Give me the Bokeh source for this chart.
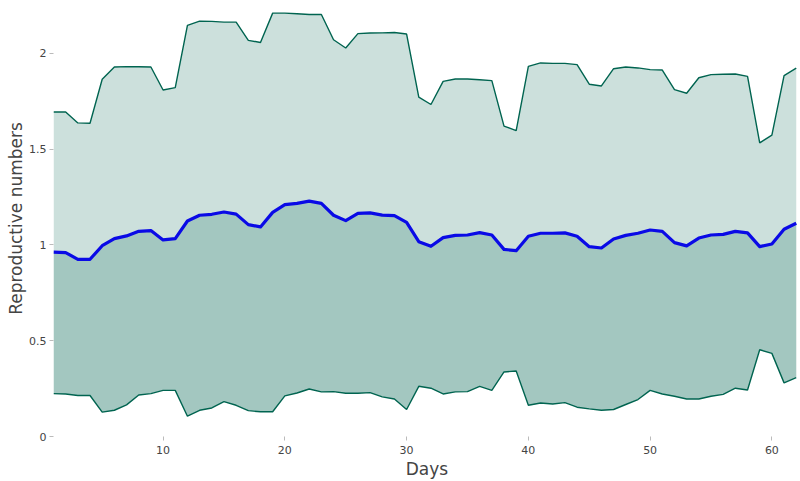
from bokeh.plotting import figure
from bokeh.models import FixedTicker, Range1d
from bokeh.embed import file_html
from bokeh.resources import INLINE

# Daily reproductive-number estimates: mean with lower/upper bounds
days = list(range(1, 63))

upper = [1.694, 1.694, 1.637, 1.635, 1.865, 1.929, 1.931, 1.930, 1.929, 1.809,
         1.821, 2.146, 2.168, 2.167, 2.163, 2.163, 2.068, 2.057, 2.210, 2.210,
         2.207, 2.203, 2.203, 2.071, 2.028, 2.103, 2.106, 2.107, 2.109, 2.101,
         1.772, 1.733, 1.854, 1.866, 1.866, 1.862, 1.858, 1.620, 1.597, 1.932,
         1.950, 1.948, 1.948, 1.941, 1.839, 1.830, 1.920, 1.929, 1.924, 1.915,
         1.913, 1.811, 1.792, 1.873, 1.889, 1.891, 1.892, 1.880, 1.533, 1.573,
         1.884, 1.923]

lower = [0.224, 0.222, 0.214, 0.214, 0.127, 0.137, 0.165, 0.217, 0.224, 0.241,
         0.241, 0.106, 0.137, 0.149, 0.182, 0.163, 0.135, 0.129, 0.129, 0.212,
         0.227, 0.248, 0.233, 0.234, 0.226, 0.226, 0.229, 0.207, 0.196, 0.141,
         0.262, 0.252, 0.222, 0.233, 0.234, 0.262, 0.241, 0.337, 0.342, 0.163,
         0.175, 0.170, 0.177, 0.153, 0.144, 0.137, 0.141, 0.167, 0.193, 0.241,
         0.222, 0.210, 0.196, 0.196, 0.210, 0.220, 0.252, 0.243, 0.453, 0.434,
         0.280, 0.307]

mean = [0.962, 0.960, 0.925, 0.925, 0.996, 1.033, 1.047, 1.071, 1.075, 1.026,
        1.033, 1.125, 1.155, 1.160, 1.172, 1.161, 1.106, 1.094, 1.170, 1.210,
        1.217, 1.229, 1.217, 1.155, 1.127, 1.165, 1.167, 1.156, 1.153, 1.118,
        1.017, 0.993, 1.038, 1.050, 1.052, 1.064, 1.052, 0.977, 0.970, 1.045,
        1.061, 1.061, 1.063, 1.045, 0.991, 0.984, 1.031, 1.050, 1.061, 1.078,
        1.071, 1.012, 0.995, 1.036, 1.052, 1.055, 1.071, 1.063, 0.991, 1.005,
        1.082, 1.113]

x_ticks = [10, 20, 30, 40, 50, 60]
y_ticks = [0, 0.5, 1, 1.5, 2]
y_tick_labels = ["0", "0.5", "1", "1.5", "2"]

band = "rgb(0,100,80)"
font = "DejaVu Sans"
text_col = "#444444"

p = figure(width=800, height=481, output_backend="svg", toolbar_location=None,
           x_range=Range1d(1, 62.35), y_range=Range1d(0, 2.276),
           min_border_left=53, min_border_right=0, min_border_top=0,
           min_border_bottom=44)
p.outline_line_color = None
p.background_fill_color = "white"
p.border_fill_color = "white"
p.xgrid.visible = False
p.ygrid.visible = False

# Shaded bands: lower..upper and lower..mean, stacked translucently
p.varea(x=days, y1=lower, y2=upper, fill_color=band, fill_alpha=0.2)
p.varea(x=days, y1=lower, y2=mean, fill_color=band, fill_alpha=0.2)

p.line(days, upper, line_color=band, line_width=1.4)
p.line(days, lower, line_color=band, line_width=1.4)
p.line(days, mean, line_color="#0a0ae6", line_width=3.2, line_join="round")

for ax in (p.xaxis[0], p.yaxis[0]):
    ax.axis_line_color = None
    ax.major_tick_in = 0
    ax.major_tick_out = 4
    ax.major_tick_line_color = "#bbbbbb"
    ax.minor_tick_line_color = None
    ax.major_label_text_font = font
    ax.major_label_text_font_size = "11px"
    ax.major_label_text_color = text_col
    ax.axis_label_text_font = font
    ax.axis_label_text_font_size = "17px"
    ax.axis_label_text_font_style = "normal"
    ax.axis_label_text_color = text_col

p.xaxis[0].ticker = FixedTicker(ticks=x_ticks)
p.xaxis[0].axis_label = "Days"
p.xaxis[0].major_label_standoff = 5
p.xaxis[0].axis_label_standoff = 2

p.yaxis[0].ticker = FixedTicker(ticks=y_ticks)
p.yaxis[0].major_label_overrides = {t: s for t, s in zip(y_ticks, y_tick_labels)}
p.yaxis[0].axis_label = "Reproductive numbers"
p.yaxis[0].major_label_standoff = 3
p.yaxis[0].axis_label_standoff = 0

open("out.html", "w").write(file_html(p, INLINE))
